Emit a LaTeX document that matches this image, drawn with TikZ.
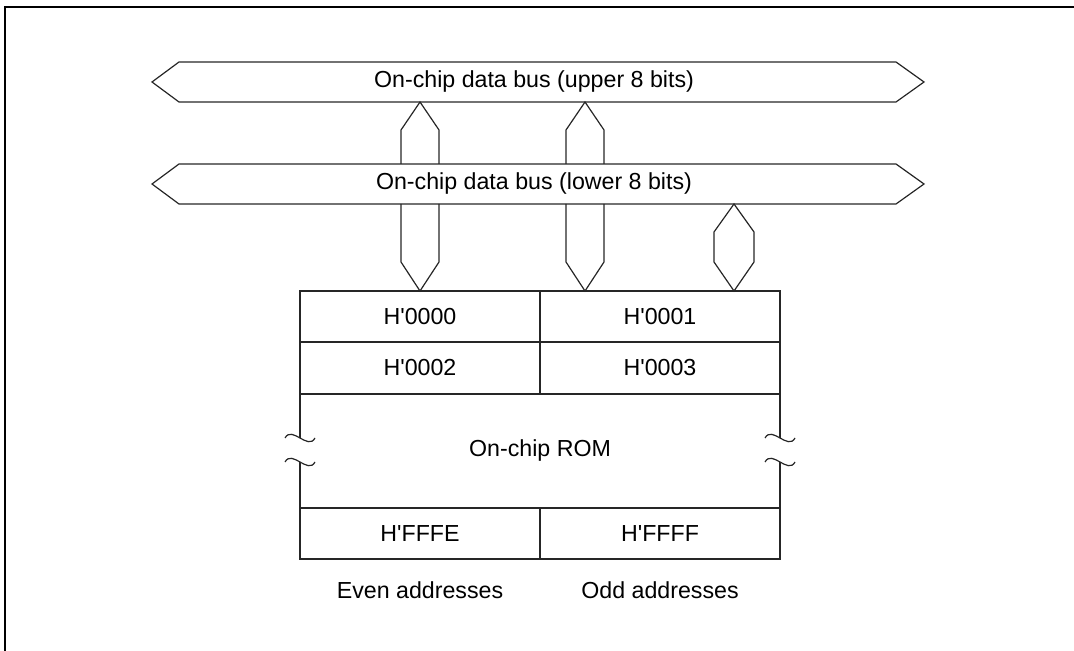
\documentclass[tikz,border=0pt]{standalone}
\usepackage{fontspec}
\setmainfont{Liberation Sans}

\begin{document}
\begin{tikzpicture}[x=0.5pt, y=-0.5pt, line join=miter,
				linie/.style={draw=black!85, line width=0.6pt},
				rahmen/.style={draw=black, line width=1pt},
				txt/.style={inner sep=0pt, font=\fontsize{11.6}{14}\selectfont}]
				\useasboundingbox (0,0) rectangle (1074,651);
				% Rahmen
				\draw[rahmen] (5,651) -- (5,7) -- (1074,7);
				% Busse zeichnen
				\foreach \y in {82,184}
					\draw[linie] (152,\y) -- (179,\y-20) -- (896,\y-20) -- (924,\y) -- (896,\y+20) -- (179,\y+20) -- cycle;
				\node[txt] (upperbus) at (534,82) {On-chip data bus (upper 8 bits)};
				\node[txt] (lowerbus) at (534,184) {On-chip data bus (lower 8 bits)};
				% Verbindungen zwischen den Bussen
				\draw[linie] (401,164) -- (401,130) -- (420,102) -- (439,130) -- (439,164);
				\draw[linie] (566,164) -- (566,130) -- (585,102) -- (604,130) -- (604,164);
				% Verbindungen zum ROM
				\draw[linie] (401,204) -- (401,262) -- (420,291) -- (439,262) -- (439,204);
				\draw[linie] (566,204) -- (566,262) -- (585,291) -- (604,262) -- (604,204);
				\draw[linie] (734,204) -- (714,232) -- (714,262) -- (734,291) -- (754,262) -- (754,232) -- cycle;
				% ROM-Block
				\draw[linie] (300,438) -- (300,291) -- (780,291) -- (780,438);
				\draw[linie] (300,462) -- (300,559) -- (780,559) -- (780,462);
				\draw[linie] (300,342) -- (780,342);
				\draw[linie] (300,394) -- (780,394);
				\draw[linie] (300,508) -- (780,508);
				\draw[linie] (540,291) -- (540,394);
				\draw[linie] (540,508) -- (540,559);
				% Bruchstellen
				\foreach \x in {300,780}
					\foreach \y in {438,462}
						\draw[linie] (\x-15,\y) .. controls (\x-8,\y-13) and (\x+8,\y+13) .. (\x+15,\y);
				% Beschriftung
				\node[txt] (a0) at (420,317) {H\textquotesingle 0000};
				\node[txt] (a1) at (660,317) {H\textquotesingle 0001};
				\node[txt] (a2) at (420,368) {H\textquotesingle 0002};
				\node[txt] (a3) at (660,368) {H\textquotesingle 0003};
				\node[txt] (rom) at (540,451) {On-chip ROM};
				\node[txt] (ae) at (420,534) {H\textquotesingle FFFE};
				\node[txt] (af) at (660,534) {H\textquotesingle FFFF};
				\node[txt] (even) at (420,590) {Even addresses};
				\node[txt] (odd) at (660,590) {Odd addresses};
			\end{tikzpicture}
\end{document}
